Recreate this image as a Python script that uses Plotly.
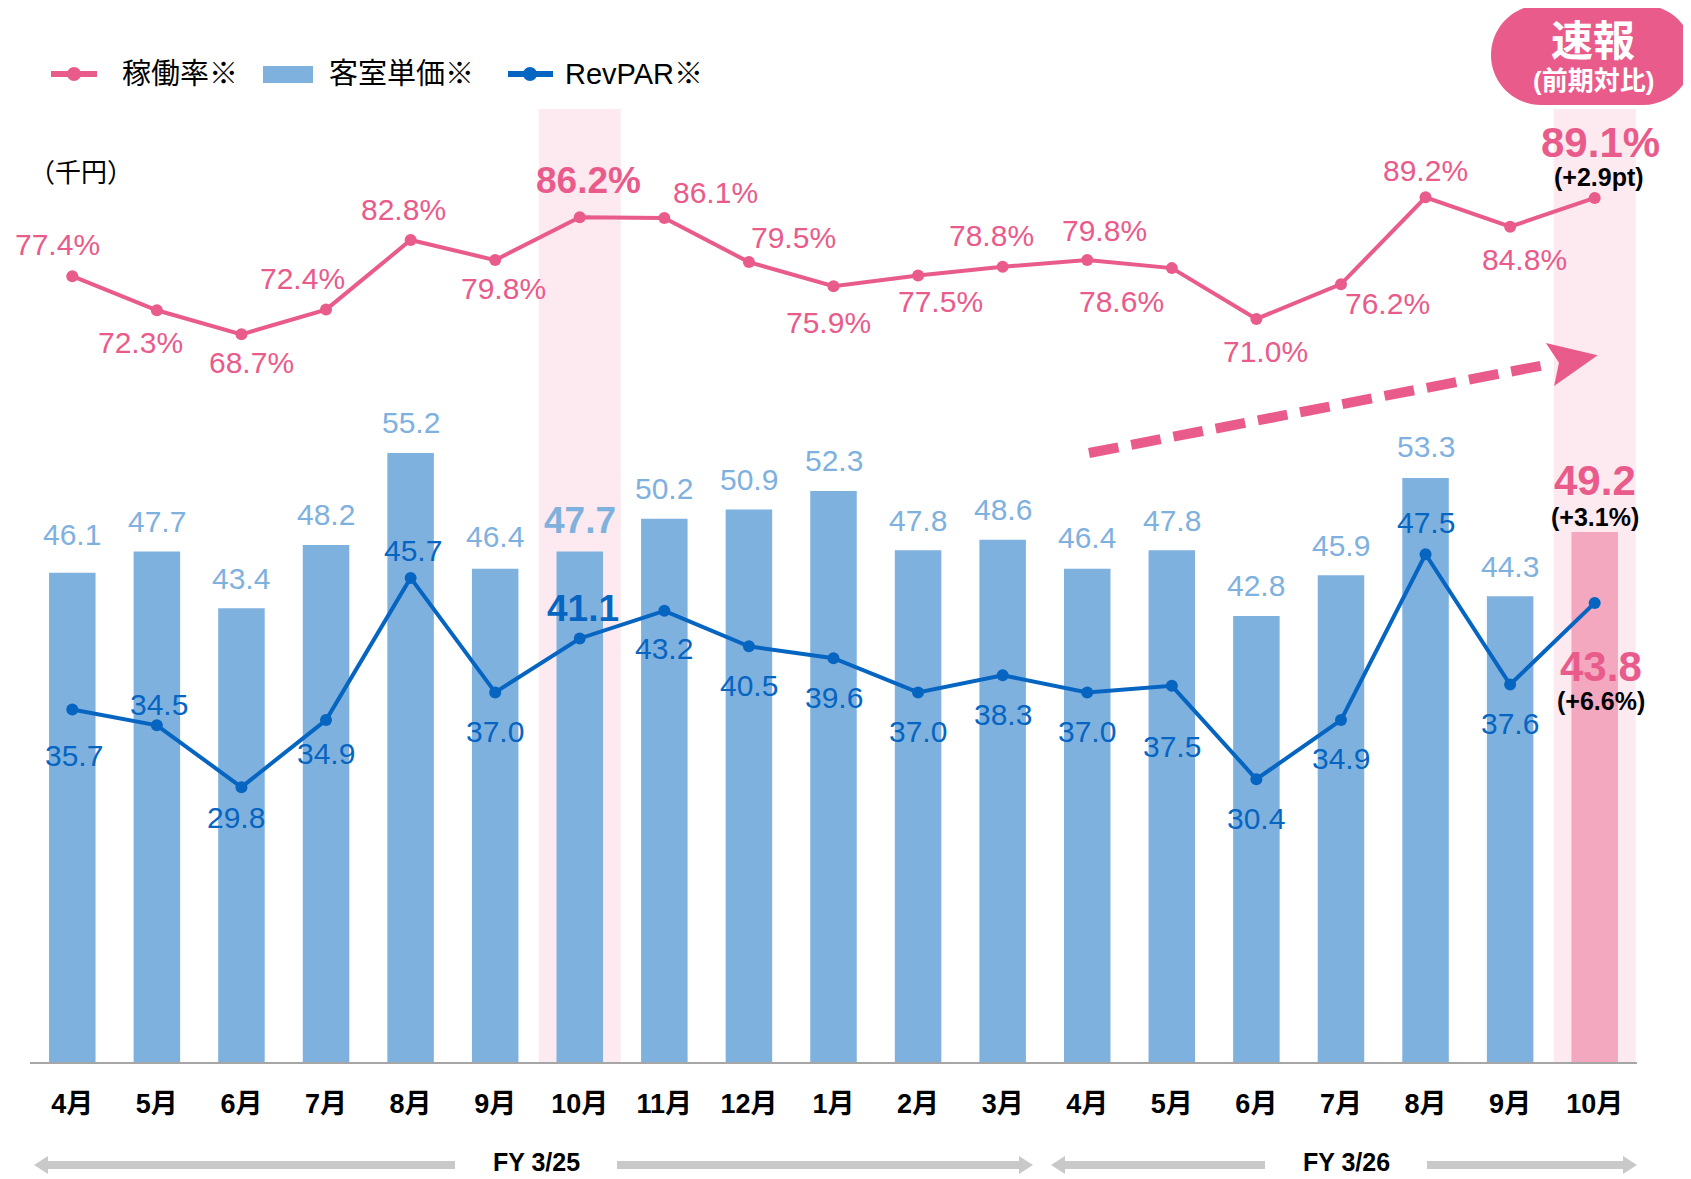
import plotly.graph_objects as go

# ---------------- data ----------------
months = ["4月", "5月", "6月", "7月", "8月", "9月", "10月", "11月", "12月", "1月", "2月", "3月",
          "4月", "5月", "6月", "7月", "8月", "9月", "10月"]
occupancy = [77.4, 72.3, 68.7, 72.4, 82.8, 79.8, 86.2, 86.1, 79.5, 75.9, 77.5, 78.8,
             79.8, 78.6, 71.0, 76.2, 89.2, 84.8, 89.1]
room_rate = [46.1, 47.7, 43.4, 48.2, 55.2, 46.4, 47.7, 50.2, 50.9, 52.3, 47.8, 48.6,
             46.4, 47.8, 42.8, 45.9, 53.3, 44.3, 49.2]
revpar = [35.7, 34.5, 29.8, 34.9, 45.7, 37.0, 41.1, 43.2, 40.5, 39.6, 37.0, 38.3,
          37.0, 37.5, 30.4, 34.9, 47.5, 37.6, 43.8]
fiscal_years = ["FY 3/25", "FY 3/26"]
latest_diff_occ = "(+2.9pt)"
latest_diff_rate = "(+3.1%)"
latest_diff_revpar = "(+6.6%)"

# ---------------- styles / label offsets (px, + = down / right) ----------------
PINK = "#E95B8B"
BAR_BLUE = "#7FB1DF"
BAR_PINK = "#F3A8C0"
DARK_BLUE = "#0765C2"
BAND = "#FCEAF0"
GREY = "#C9C9C9"
FONT = "Liberation Sans, Noto Sans CJK JP, Arial, sans-serif"
S = 1.0784  # scale from measured picture

occ_dx = [-14, -15, 9, -22, -7, 8, 8, 47, 41, -5, 21, -10, 16, -47, 8, 43, 0, 13, 5]
occ_dy = [-29, 30, 26, -29, -28, 26, -34, -24, -23, 34, 24, -29, -27, 31, 30, 18, -25, 30, -51]
bar_dy = [-35, -28, -28, -28, -28, -30, -29, -28, -28, -28, -28, -28, -29, -28, -28, -28, -29, -28, -48]
rev_dy = [43, -19, 28, 31, -25, 36, -28, 35, 36, 36, 36, 36, 36, 56, 36, 36, -29, 36, 59]
rev_dx = [2, 2, -5, 0, 2, 0, 3, 0, 0, 0, 0, 0, 0, 0, 0, 0, 0, 0, 6]

n = len(months)
xs = list(range(n))
last = n - 1
highlight = [6, last]

# the page body has an 8px margin: figure is drawn 8px right/down in the window
W, H = 1683, 1171
ML, MR, MT, MB = 22, 54, 101, 117
PW, PH = W - ML - MR, H - MT - MB
X0, Y1 = 30, 1062  # plot area left / bottom in window pixels


def px(x):
    return (x - X0) / PW


def py(y):
    return (Y1 - y) / PH


fig = go.Figure()

bar_colors = [BAR_PINK if i == last else BAR_BLUE for i in xs]
fig.add_trace(go.Bar(x=xs, y=room_rate, marker=dict(color=bar_colors, line=dict(width=0)),
                     width=0.55, yaxis="y", showlegend=False, hoverinfo="skip"))
fig.add_trace(go.Scatter(x=xs, y=revpar, mode="lines+markers", yaxis="y",
                         line=dict(color=DARK_BLUE, width=4),
                         marker=dict(color=DARK_BLUE, size=12), showlegend=False))
fig.add_trace(go.Scatter(x=xs, y=occupancy, mode="lines+markers", yaxis="y2",
                         line=dict(color=PINK, width=4),
                         marker=dict(color=PINK, size=12), showlegend=False))

shapes = []
annotations = []


def note(x, y, text, size, color, xanchor="center", yanchor="middle", **kw):
    annotations.append(dict(x=x, y=y, xref="paper", yref="paper", text=text, showarrow=False,
                            xanchor=xanchor, yanchor=yanchor,
                            font=dict(size=size, color=color, family=FONT), **kw))


# highlight bands
for i in highlight:
    shapes.append(dict(type="rect", xref="x", yref="paper", x0=i - 0.485, x1=i + 0.485, y0=0, y1=1,
                       fillcolor=BAND, line=dict(width=0), layer="below"))

# occupancy labels
for i, v in enumerate(occupancy):
    bold = i in highlight
    if i == last:
        annotations.append(dict(x=i, y=v, xref="x", yref="y2", text=f"<b>{v:.1f}%</b>", showarrow=False,
                                xshift=occ_dx[i] * S, yshift=-occ_dy[i] * S, font=dict(size=42, color=PINK, family=FONT)))
        annotations.append(dict(x=i, y=v, xref="x", yref="y2", text=f"<b>{latest_diff_occ}</b>", showarrow=False,
                                xshift=4, yshift=19 * S, font=dict(size=25, color="black", family=FONT)))
    else:
        txt = f"<b>{v:.1f}%</b>" if bold else f"{v:.1f}%"
        annotations.append(dict(x=i, y=v, xref="x", yref="y2", text=txt, showarrow=False,
                                xshift=occ_dx[i] * S, yshift=-occ_dy[i] * S,
                                font=dict(size=37 if bold else 30, color=PINK, family=FONT)))

# room rate labels
for i, v in enumerate(room_rate):
    if i == last:
        annotations.append(dict(x=i, y=v, xref="x", yref="y", text=f"<b>{v:.1f}</b>", showarrow=False,
                                yshift=-bar_dy[i] * S, font=dict(size=42, color=PINK, family=FONT)))
        annotations.append(dict(x=i, y=v, xref="x", yref="y", text=f"<b>{latest_diff_rate}</b>", showarrow=False,
                                yshift=14 * S, font=dict(size=25, color="black", family=FONT)))
    else:
        bold = i in highlight
        txt = f"<b>{v:.1f}</b>" if bold else f"{v:.1f}"
        annotations.append(dict(x=i, y=v, xref="x", yref="y", text=txt, showarrow=False,
                                yshift=-bar_dy[i] * S,
                                font=dict(size=37 if bold else 30, color=BAR_BLUE, family=FONT)))

# revpar labels
for i, v in enumerate(revpar):
    if i == last:
        annotations.append(dict(x=i, y=v, xref="x", yref="y", text=f"<b>{v:.1f}</b>", showarrow=False,
                                xshift=rev_dx[i] * S, yshift=-rev_dy[i] * S, font=dict(size=42, color=PINK, family=FONT)))
        annotations.append(dict(x=i, y=v, xref="x", yref="y", text=f"<b>{latest_diff_revpar}</b>", showarrow=False,
                                xshift=rev_dx[i] * S, yshift=-91 * S, font=dict(size=25, color="black", family=FONT)))
    else:
        bold = i in highlight
        txt = f"<b>{v:.1f}</b>" if bold else f"{v:.1f}"
        annotations.append(dict(x=i, y=v, xref="x", yref="y", text=txt, showarrow=False,
                                xshift=rev_dx[i] * S, yshift=-rev_dy[i] * S,
                                font=dict(size=37 if bold else 30, color=DARK_BLUE, family=FONT)))

# legend (manual)
ly = 74
shapes.append(dict(type="line", xref="paper", yref="paper", x0=px(51), x1=px(97), y0=py(ly), y1=py(ly),
                   line=dict(color=PINK, width=6)))
shapes.append(dict(type="circle", xref="paper", yref="paper", x0=px(67), x1=px(81), y0=py(ly + 7), y1=py(ly - 7),
                   fillcolor=PINK, line=dict(width=0)))
note(px(120), py(ly), "稼働率※", 29, "black", xanchor="left")
shapes.append(dict(type="rect", xref="paper", yref="paper", x0=px(263), x1=px(313), y0=py(83), y1=py(66),
                   fillcolor=BAR_BLUE, line=dict(width=0)))
note(px(327), py(ly), "客室単価※", 29, "black", xanchor="left")
shapes.append(dict(type="line", xref="paper", yref="paper", x0=px(508), x1=px(553), y0=py(ly), y1=py(ly),
                   line=dict(color=DARK_BLUE, width=6)))
shapes.append(dict(type="circle", xref="paper", yref="paper", x0=px(523), x1=px(537), y0=py(ly + 7), y1=py(ly - 7),
                   fillcolor=DARK_BLUE, line=dict(width=0)))
note(px(563), py(ly), "RevPAR※", 29, "black", xanchor="left")

# unit label
note(px(27), py(173), "（千円）", 26, "black", xanchor="left")

# badge (rounded pill)
bx0, bx1, by0, by1 = 1491, 1693, 5, 105
r = (by1 - by0) / 2
k = 0.5523 * r


def P(x, y):
    return f"{px(x):.5f},{py(y):.5f}"


path = (f"M {P(bx0 + r, by0)} L {P(bx1 - r, by0)} "
        f"C {P(bx1 - r + k, by0)} {P(bx1, by0 + r - k)} {P(bx1, by0 + r)} "
        f"C {P(bx1, by0 + r + k)} {P(bx1 - r + k, by1)} {P(bx1 - r, by1)} "
        f"L {P(bx0 + r, by1)} "
        f"C {P(bx0 + r - k, by1)} {P(bx0, by0 + r + k)} {P(bx0, by0 + r)} "
        f"C {P(bx0, by0 + r - k)} {P(bx0 + r - k, by0)} {P(bx0 + r, by0)} Z")
shapes.append(dict(type="path", xref="paper", yref="paper", path=path, fillcolor=PINK, line=dict(width=0)))
note(px(1593), py(41), "<b>速報</b>", 42, "white")
note(px(1593), py(81), "<b>(前期対比)</b>", 26, "white")

# dashed trend arrow
ax0, ay0, ax1, ay1, tx, ty = 1089, 453, 1550, 364, 1594, 356
shapes.append(dict(type="line", xref="paper", yref="paper", x0=px(ax0), y0=py(ay0), x1=px(ax1), y1=py(ay1),
                   line=dict(color=PINK, width=10, dash="30px,13px")))
ux, uy = (tx - ax0), (ty - ay0)
L = (ux ** 2 + uy ** 2) ** 0.5
ux, uy = ux / L, uy / L
bxp, byp = tx - 42 * ux, ty - 42 * uy
nx, ny = -uy, ux
shapes.append(dict(type="path", xref="paper", yref="paper",
                   path=f"M {P(tx, ty)} L {P(bxp + 19 * nx, byp + 19 * ny)} L {P(bxp + 8 * ux, byp + 8 * uy)} "
                        f"L {P(bxp - 19 * nx, byp - 19 * ny)} Z",
                   fillcolor=PINK, line=dict(color=PINK, width=3)))

# fiscal year arrows
fy_y = 1165
segments = [(34, 455, "left"), (617, 1033, "right"), (1051, 1265, "left"), (1427, 1637, "right")]
for a, b, d in segments:
    if d == "left":
        shapes.append(dict(type="line", xref="paper", yref="paper", x0=px(a + 10), x1=px(b), y0=py(fy_y), y1=py(fy_y),
                           line=dict(color=GREY, width=8)))
        shapes.append(dict(type="path", xref="paper", yref="paper",
                           path=f"M {P(a, fy_y)} L {P(a + 14, fy_y - 9)} L {P(a + 14, fy_y + 9)} Z",
                           fillcolor=GREY, line=dict(width=0)))
    else:
        shapes.append(dict(type="line", xref="paper", yref="paper", x0=px(a), x1=px(b - 10), y0=py(fy_y), y1=py(fy_y),
                           line=dict(color=GREY, width=8)))
        shapes.append(dict(type="path", xref="paper", yref="paper",
                           path=f"M {P(b, fy_y)} L {P(b - 14, fy_y - 9)} L {P(b - 14, fy_y + 9)} Z",
                           fillcolor=GREY, line=dict(width=0)))
note(px(536), py(1162), f"<b>{fiscal_years[0]}</b>", 25, "black")
note(px(1346), py(1162), f"<b>{fiscal_years[1]}</b>", 25, "black")

fig.update_layout(
    width=W, height=H,
    margin=dict(l=ML, r=MR, t=MT, b=MB),
    paper_bgcolor="white", plot_bgcolor="rgba(0,0,0,0)",
    showlegend=False,
    bargap=0.45,
    font=dict(family=FONT),
    xaxis=dict(range=[-0.5, n - 0.5], tickmode="array", tickvals=xs,
               ticktext=[f"<b>{m}</b>" for m in months],
               tickfont=dict(size=27, color="black", family=FONT),
               showline=True, linecolor="#A6A6A6", linewidth=2, showgrid=False, zeroline=False,
               ticks="", ticklabelstandoff=17),
    yaxis=dict(range=[8.91, 81.34], visible=False, showgrid=False, zeroline=False),
    yaxis2=dict(range=[-40.14, 102.4], overlaying="y", visible=False, showgrid=False, zeroline=False),
    shapes=shapes,
    annotations=annotations,
)

fig.write_html("out.html")
